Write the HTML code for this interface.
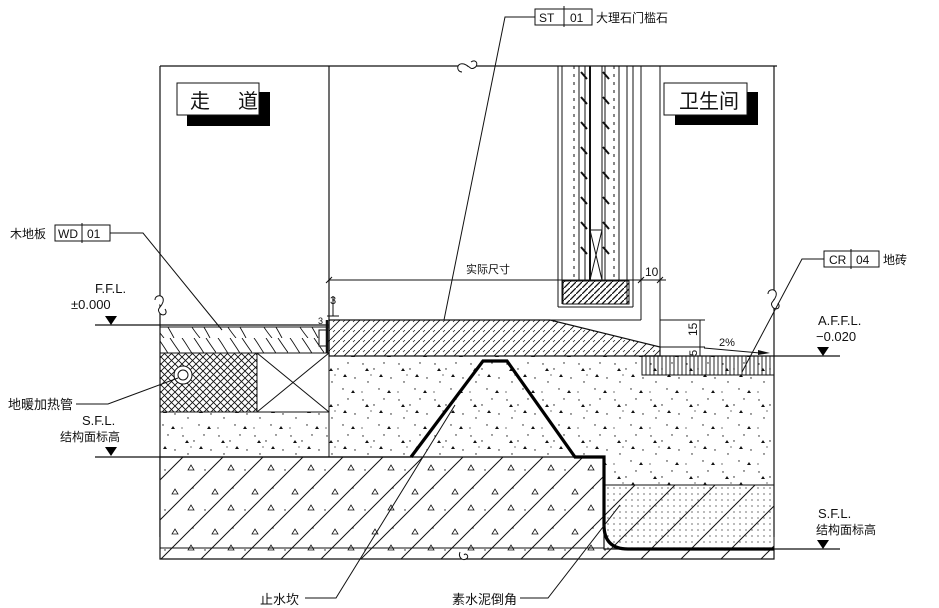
<!DOCTYPE html>
<html><head><meta charset="utf-8"><style>
html,body{margin:0;padding:0;background:#fff}
svg{display:block}
text{font-family:"Liberation Sans","Noto Sans CJK SC",sans-serif;fill:#111}
</style></head><body>
<svg width="939" height="608" viewBox="0 0 939 608" xmlns="http://www.w3.org/2000/svg">
<defs>
<pattern id="diag" width="40" height="40" patternUnits="userSpaceOnUse">
<path d="M-10,50 L50,-10 M-30,30 L30,-30 M10,70 L70,10" stroke="#111" stroke-width="1"/>
<path d="M12,14 l3,-5 l3,5z M28,30 l3,-5 l3,5z" fill="none" stroke="#111" stroke-width="0.8"/>
<circle cx="5" cy="30" r="0.7" fill="#111"/><circle cx="33" cy="8" r="0.7" fill="#111"/>
</pattern>
<pattern id="diag2" width="40" height="40" patternUnits="userSpaceOnUse">
<path d="M-10,50 L50,-10 M-30,30 L30,-30 M10,70 L70,10" stroke="#111" stroke-width="1"/>
</pattern>
<pattern id="stone" width="10" height="10" patternUnits="userSpaceOnUse">
<path d="M-2,12 L12,-2" stroke="#111" stroke-width="0.9"/>
<path d="M3,2 l2,-2" stroke="#111" stroke-width="0.6"/>
</pattern>
<pattern id="conc" width="36" height="36" patternUnits="userSpaceOnUse">
<circle cx="3" cy="4" r="0.7" fill="#111"/><circle cx="14" cy="9" r="0.7" fill="#111"/>
<circle cx="24" cy="3" r="0.7" fill="#111"/><circle cx="8" cy="22" r="0.7" fill="#111"/>
<circle cx="19" cy="29" r="0.7" fill="#111"/><circle cx="31" cy="18" r="0.7" fill="#111"/>
<circle cx="11" cy="15" r="0.6" fill="#111"/><circle cx="2" cy="32" r="0.6" fill="#111"/>
<path d="M19,17 l2,-3 l2,3z M5,11 l2,-3 l2,3z M27,33 l2,-3 l2,3z" fill="#111"/>
</pattern>
<pattern id="fine" width="6" height="6" patternUnits="userSpaceOnUse">
<circle cx="2" cy="2" r="0.6" fill="#111"/>
</pattern>
<pattern id="cross" width="7" height="7" patternUnits="userSpaceOnUse">
<path d="M-1,8 L8,-1 M-1,-1 L8,8" stroke="#111" stroke-width="0.9"/>
</pattern>
<pattern id="vert" width="4" height="10" patternUnits="userSpaceOnUse">
<path d="M2,0 V10" stroke="#111" stroke-width="0.9"/>
</pattern>
<pattern id="wood" width="36" height="26" patternUnits="userSpaceOnUse">
<path d="M2,0 C8,8 10,14 20,26 M14,0 C20,9 24,14 30,26 M26,0 C30,6 34,12 40,20" fill="none" stroke="#111" stroke-width="0.9"/>
</pattern>
<pattern id="zebra" width="6" height="6" patternUnits="userSpaceOnUse">
<path d="M-1,7 L7,-1" stroke="#111" stroke-width="1.3"/>
</pattern>
</defs>

<g stroke="#111" stroke-width="1.2" fill="none">
<path d="M160,66 H777"/>
<path d="M160,66 V537"/>
<path d="M774,66 V537"/>
<path d="M329,66 V356"/>
</g>
<g stroke="#111" fill="#fff" stroke-width="1">
<path d="M462,72 c-6,0 -6,-10 2,-8 c6,2 6,6 10,4 c5,-2 3,-10 -3,-6" />
<path d="M155,300 c0,-6 10,-6 8,2 c-2,6 -6,6 -4,10 c2,5 10,3 6,-3"/>
<path d="M768,294 c0,-6 10,-6 8,2 c-2,6 -6,6 -4,10 c2,5 10,3 6,-3"/>
</g>

<rect x="187" y="92" width="83" height="34" fill="#000"/>
<rect x="177" y="83" width="82" height="32" fill="#fff" stroke="#111"/>
<text x="190" y="108" font-size="20">走</text><text x="238" y="108" font-size="20">道</text>
<rect x="675" y="92" width="83" height="33" fill="#000"/>
<rect x="664" y="83" width="83" height="32" fill="#fff" stroke="#111"/>
<text x="679" y="108" font-size="20">卫生间</text>

<g stroke="#111" fill="none" stroke-width="1">
<path d="M558,66 V307 M562,66 V304 M579,66 V280 M585,66 V280 M590,66 V280 M602,66 V280 M605,66 V280 M619,66 V280 M627,66 V304 M633,66 V307 M641,66 V320 M660,66 V356"/>
<path d="M574,66 V280 M614,66 V280" stroke-dasharray="3,5"/>
<path d="M590,66 V280" stroke-width="2"/>
<path d="M558,307 H633"/>
<rect x="590" y="230" width="12" height="50"/>
<path d="M590,230 L602,280 M602,230 L590,280"/>
</g>
<g stroke="#111" stroke-width="2">
<path d="M581,72 l6,7 M581,97 l6,7 M581,122 l6,7 M581,147 l6,7 M581,172 l6,7 M581,197 l6,7 M581,222 l6,7 M581,247 l6,7"/>
<path d="M603,72 l6,7 M603,97 l6,7 M603,122 l6,7 M603,147 l6,7 M603,172 l6,7 M603,197 l6,7 M603,222 l6,7 M603,247 l6,7"/>
</g>
<rect x="563" y="281" width="66" height="23" fill="url(#zebra)" stroke="#111"/>

<g stroke="#111" stroke-width="1" fill="none">
<path d="M329,280 H666"/>
<path d="M326,283 l6,-6 M638,283 l6,-6 M657,283 l6,-6"/>
<path d="M700,320 V356 M695,320 h10 M695,347 h10 M695,356 h10"/>
<path d="M660,320 H705 M660,347 H705"/>
<path d="M704,348 L760,353"/>
<path d="M333,296 V316 M327,316 h12"/>
</g>
<path d="M758,350 L770,353 L758,355z" fill="#111"/>
<text x="466" y="273" font-size="11">实际尺寸</text>
<text x="645" y="276" font-size="12">10</text>
<text x="330" y="304" font-size="11">3</text>
<text x="318" y="324" font-size="9">3</text>
<text x="719" y="346" font-size="11">2%</text>
<text transform="translate(697,336) rotate(-90)" font-size="12">15</text>
<text transform="translate(697,356) rotate(-90)" font-size="11">5</text>

<rect x="160" y="327" width="169" height="26" fill="url(#wood)" stroke="#111"/>
<rect x="319" y="330" width="8" height="16" fill="#fff" stroke="#111"/>
<path d="M327,320 V356" stroke="#111" stroke-width="2.5"/>
<rect x="160" y="353" width="97" height="59" fill="url(#cross)" stroke="#111"/>
<rect x="257" y="353" width="72" height="59" fill="#fff" stroke="#111"/>
<path d="M257,353 L329,412 M329,353 L257,412" stroke="#111"/>
<circle cx="183" cy="375" r="9" fill="#fff" stroke="#111"/><circle cx="183" cy="375" r="5" fill="none" stroke="#111"/>
<rect x="160" y="412" width="169" height="45" fill="url(#conc)" stroke="#111"/>

<rect x="329" y="356" width="445" height="129" fill="url(#conc)" stroke="#111"/>
<rect x="604" y="485" width="170" height="64" fill="url(#fine)" stroke="#111"/>
<rect x="604" y="485" width="170" height="74" fill="url(#diag2)"/>
<rect x="642" y="356" width="132" height="19" fill="url(#vert)" stroke="#111"/>
<path d="M329,320 H550 L660,347 V356 H329Z" fill="url(#stone)" stroke="#111" stroke-width="1.2"/>
<path d="M550,320 H641" stroke="#111"/>

<path d="M160,457 H604 V549 H774 V559 H160Z" fill="#fff"/>
<path d="M160,457 H604 V549 H774 V559 H160Z" fill="url(#diag)" stroke="#111" stroke-width="1.2"/>
<path d="M604,485 L774,485" stroke="#111"/>
<path d="M160,548 H604" stroke="#111"/>
<path d="M411,457 L483,361 H507 L575,457 H604 V525 Q604,549 628,549 H774" fill="none" stroke="#000" stroke-width="3.2"/>
<path d="M460,552 c-2,5 2,9 6,7 c4,-2 0,-7 -2,-4" stroke="#111" fill="#fff"/>

<g stroke="#111" stroke-width="1.2">
<path d="M95,325 H329"/>
<path d="M95,457 H411"/>
<path d="M642,356 H840"/>
<path d="M774,549 H840"/>
</g>
<g fill="#000">
<path d="M105,316 h12 l-6,9z"/><path d="M105,447 h12 l-6,9z"/>
<path d="M817,347 h12 l-6,9z"/><path d="M817,540 h12 l-6,9z"/>
</g>
<text x="95" y="293" font-size="13">F.F.L.</text>
<text x="71" y="309" font-size="13">±0.000</text>
<text x="82" y="425" font-size="13">S.F.L.</text>
<text x="60" y="441" font-size="12">结构面标高</text>
<text x="818" y="325" font-size="13">A.F.F.L.</text>
<text x="816" y="341" font-size="13">−0.020</text>
<text x="818" y="518" font-size="13">S.F.L.</text>
<text x="816" y="534" font-size="12">结构面标高</text>

<g stroke="#111" stroke-width="1" fill="none">
<rect x="55" y="225" width="55" height="16"/><path d="M82,223 V243"/>
<path d="M110,233 H143 L222,330"/>
<rect x="535" y="9" width="57" height="16"/><path d="M564,6 V27"/>
<path d="M535,17 H505 L444,320"/>
<rect x="824" y="251" width="55" height="16"/><path d="M851,249 V269"/>
<path d="M824,259 H802 L742,372"/>
<path d="M76,404 H108 L178,378"/>
<path d="M305,598 H336 L455,405"/>
<path d="M520,598 H548 L620,505"/>
</g>
<text x="58" y="238" font-size="12">WD</text><text x="87" y="238" font-size="12">01</text>
<text x="10" y="238" font-size="12">木地板</text>
<text x="539" y="22" font-size="12">ST</text><text x="570" y="22" font-size="12">01</text>
<text x="596" y="22" font-size="12">大理石门槛石</text>
<text x="829" y="264" font-size="12">CR</text><text x="856" y="264" font-size="12">04</text>
<text x="883" y="264" font-size="12">地砖</text>
<text x="8" y="409" font-size="13">地暖加热管</text>
<text x="260" y="604" font-size="13">止水坎</text>
<text x="452" y="604" font-size="13">素水泥倒角</text>
</svg>
</body></html>
